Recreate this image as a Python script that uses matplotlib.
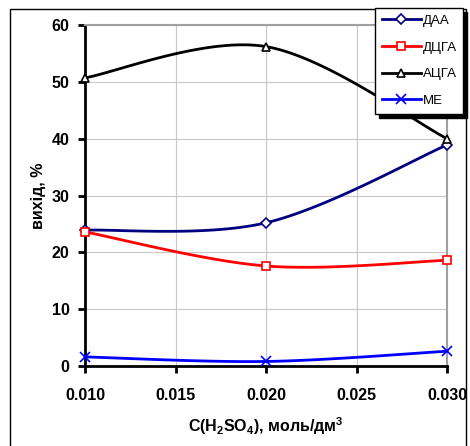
import matplotlib

matplotlib.use("Agg")

import matplotlib.pyplot as plt
import numpy as np
from matplotlib.patches import Rectangle

plt.rcParams["font.family"] = ["Liberation Sans", "DejaVu Sans"]

conc = [0.010, 0.020, 0.030]
daa = [23.9, 25.2, 38.9]
dcga = [23.6, 17.6, 18.6]
acga = [50.7, 56.2, 40.0]
me = [1.6, 0.8, 2.6]

series = [
    ("ДАА", daa, "#000080", "D", 5),
    ("ДЦГА", dcga, "#ff0000", "s", 6),
    ("АЦГА", acga, "#000000", "^", 6),
    ("МЕ", me, "#0000ff", "x", 7),
]


def excel_smooth(xs, ys, n=60):
    # Bezier smoothing like Excel (tension 1/6, end points repeated)
    p = np.column_stack([xs, ys]).astype(float)
    pts = np.vstack([p[0], p, p[-1]])
    out = []
    for i in range(1, len(pts) - 2):
        p0, p1, p2, p3 = pts[i - 1], pts[i], pts[i + 1], pts[i + 2]
        c1 = p1 + (p2 - p0) / 6
        c2 = p2 - (p3 - p1) / 6
        t = np.linspace(0, 1, n)[:, None]
        seg = ((1 - t) ** 3) * p1 + 3 * ((1 - t) ** 2) * t * c1 \
            + 3 * (1 - t) * t ** 2 * c2 + t ** 3 * p2
        out.append(seg if i == 1 else seg[1:])
    out = np.vstack(out)
    return out[:, 0], out[:, 1]


fig = plt.figure(figsize=(4.70, 4.46), dpi=100)
ax = fig.add_axes([85 / 470, 1 - 366 / 446, 362 / 470, 341 / 446])

handles = []
for name, vals, col, mk, ms in series:
    sx, sy = excel_smooth(conc, vals)
    ax.plot(sx, sy, color=col, lw=2, zorder=3, clip_on=False)
    ax.plot(conc, vals, ls="none", marker=mk, ms=ms, mfc="white" if mk != "x" else col,
            mec=col, mew=1.2, zorder=4, clip_on=False)
    h, = ax.plot([], [], color=col, lw=2, marker=mk, ms=ms,
                 mfc="white" if mk != "x" else col, mec=col, mew=1.2)
    handles.append((h, name))

ax.set_xlim(0.010, 0.030)
ax.set_ylim(0, 60)
ax.set_xticks([0.010, 0.015, 0.020, 0.025, 0.030])
ax.set_xticklabels(["0.010", "0.015", "0.020", "0.025", "0.030"])
ax.set_yticks(range(0, 61, 10))
ax.grid(True, color="#c8c8c8", lw=0.8)
ax.set_axisbelow(True)

for lab in ax.get_xticklabels() + ax.get_yticklabels():
    lab.set_fontweight("bold")
    lab.set_fontsize(11.5)
ax.tick_params(axis="both", width=2, length=5, direction="out", pad=6)
ax.tick_params(axis="x", pad=11)

for s in ["left", "bottom"]:
    ax.spines[s].set_linewidth(2)
    ax.spines[s].set_color("black")
for s in ["top", "right"]:
    ax.spines[s].set_linewidth(1.5)
    ax.spines[s].set_color("#a0a0a0")

ax.set_xlabel("C(H$_\\mathregular{2}$SO$_\\mathregular{4}$), моль/дм$^\\mathregular{3}$",
              fontsize=11.5, fontweight="bold", labelpad=9)
ax.set_ylabel("вихід, %", fontsize=11.5, fontweight="bold", labelpad=4)

leg = fig.legend([h for h, _ in handles], [n for _, n in handles],
                 loc="upper left", bbox_to_anchor=(375 / 470, 1 - 8 / 446),
                 fontsize=9.5, frameon=True, fancybox=False, edgecolor="black",
                 framealpha=1, handlelength=3.0, handletextpad=0.1,
                 labelspacing=1.1, borderpad=0.5, borderaxespad=0,
                 shadow={"color": "black", "alpha": 1, "ox": 3, "oy": -3})
leg.get_frame().set_linewidth(1)

fig.patches.append(Rectangle((10 / 470, -0.05), 456 / 470, 1 - 9 / 446 + 0.05,
                             transform=fig.transFigure, fill=False,
                             edgecolor="black", lw=1, zorder=0))

fig.savefig("out.png", dpi=100)
